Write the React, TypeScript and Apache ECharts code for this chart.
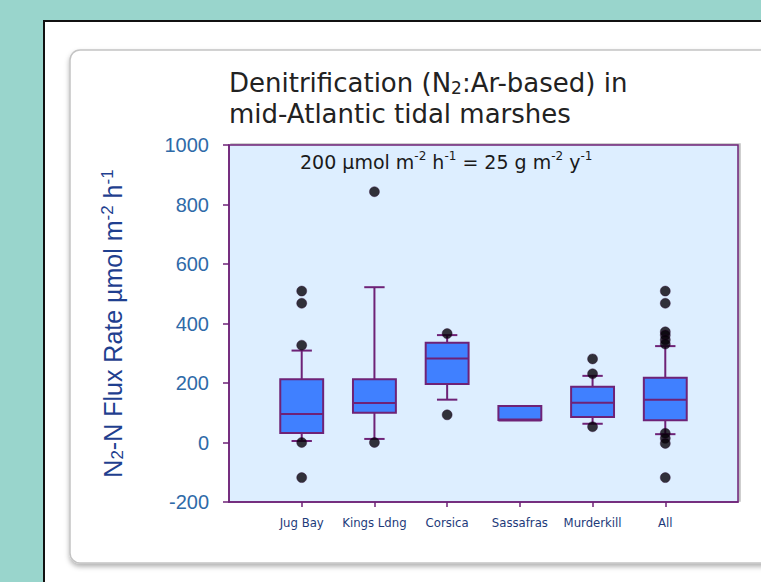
import React, { useEffect, useRef } from "react";
import * as echarts from "echarts";

const categories = ["Jug Bay", "Kings Ldng", "Corsica", "Sassafras", "Murderkill", "All"];
// [min(whisker), q1, median, q3, max(whisker)]
const boxStats: number[][] = [
  [5, 32, 96, 213, 309],
  [12, 100, 133, 213, 522],
  [144, 197, 282, 335, 361],
  [76, 76, 76, 123, 123],
  [63, 86, 134, 187, 224],
  [28, 75, 144, 218, 324],
];
const outliers: number[][] = [
  [509, 468, 327, 0, -118],
  [843, 0],
  [366, 93],
  [],
  [281, 231, 53],
  [509, 468, 372, 361, 345, 331, 31, 14, -3, -118],
];
const yTicks = { min: -200, max: 1000, interval: 200 };

const PURPLE = "#6e2277";

export default function App() {
  const ref = useRef<HTMLDivElement>(null);
  useEffect(() => {
    document.body.style.margin = "0";
    const chart = echarts.init(ref.current!, undefined, { renderer: "svg" });
    const axisCats = ["", ...categories, ""];
    const boxData = boxStats.map((s, i) => [i + 1, ...s]);
    const outData: number[][] = [];
    outliers.forEach((arr, i) => arr.forEach((v) => outData.push([i + 1, v])));

    const option: any = {
      animation: false,
      backgroundColor: "#99d5cc",
      graphic: [
        {
          type: "rect",
          z: -10,
          shape: { x: 44, y: 21, width: 730, height: 580 },
          style: { fill: "#ffffff", stroke: "#111111", lineWidth: 2 },
        },
        {
          type: "rect",
          z: -9,
          shape: { x: 70, y: 50, width: 720, height: 513, r: 10 },
          style: {
            fill: "#ffffff",
            stroke: "#c4c4c4",
            lineWidth: 1.5,
            shadowBlur: 5,
            shadowOffsetX: 0,
            shadowOffsetY: 3,
            shadowColor: "rgba(0,0,0,0.3)",
          },
        },
        {
          type: "text",
          left: 229,
          top: 70,
          style: {
            text: "Denitrification (N{sub|2}:Ar-based) in",
            fontFamily: "DejaVu Sans",
            fontSize: 26,
            fill: "#222222",
            rich: {
              sub: { fontSize: 17, fontFamily: "DejaVu Sans", verticalAlign: "bottom" },
            },
          },
        },
        {
          type: "text",
          left: 229,
          top: 101,
          style: {
            text: "mid-Atlantic tidal marshes",
            fontFamily: "DejaVu Sans",
            fontSize: 26,
            fill: "#222222",
          },
        },
        {
          type: "text",
          left: 300,
          top: 150,
          z: 10,
          style: {
            text: "200 \u00b5mol m{sup|-2} h{sup|-1} = 25 g m{sup|-2} y{sup|-1}",
            fontFamily: "DejaVu Sans",
            fontSize: 19,
            lineHeight: 23,
            fill: "#1a1a1a",
            rich: {
              sup: { fontSize: 12, fontFamily: "DejaVu Sans", verticalAlign: "top", lineHeight: 19 },
            },
          },
        },
      ],
      grid: {
        left: 229,
        top: 145,
        width: 509,
        height: 357,
        show: true,
        backgroundColor: "#ddeeff",
        borderColor: PURPLE,
        borderWidth: 1.5,
        shadowColor: "rgba(0,0,0,0.25)",
        shadowOffsetX: 2,
        shadowOffsetY: -1,
        shadowBlur: 1,
      },
      xAxis: {
        type: "category",
        data: axisCats,
        boundaryGap: false,
        axisLine: { onZero: false, lineStyle: { color: PURPLE, width: 1.5 } },
        axisTick: {
          lineStyle: { color: PURPLE, width: 1.5 },
          length: 5,
          interval: (idx: number) => idx > 0 && idx < axisCats.length - 1,
        },
        axisLabel: {
          interval: 0,
          margin: 14,
          fontFamily: "Liberation Sans Narrow, DejaVu Sans Condensed, Liberation Sans",
          fontSize: 13,
          color: "#1d3a7a",
        },
        splitLine: { show: false },
      },
      yAxis: {
        type: "value",
        min: yTicks.min,
        max: yTicks.max,
        interval: yTicks.interval,
        name: "N{sub|2}-N Flux Rate \u00b5mol m{sup|-2} h{sup|-1}",
        nameLocation: "middle",
        nameRotate: 90,
        nameGap: 103,
        nameTextStyle: {
          fontFamily: "Liberation Sans, Arial",
          fontSize: 25,
          color: "#1f3f8f",
          rich: {
            sub: { fontSize: 17, fontFamily: "Liberation Sans", color: "#1f3f8f", verticalAlign: "bottom", lineHeight: 27 },
            sup: { fontSize: 17, fontFamily: "Liberation Sans", color: "#1f3f8f", verticalAlign: "top", lineHeight: 27 },
          },
        },
        axisLine: { show: true, lineStyle: { color: PURPLE, width: 1.5 } },
        axisTick: { show: true, length: 6, lineStyle: { color: PURPLE, width: 1.5 } },
        axisLabel: {
          margin: 20,
          fontFamily: "Liberation Sans, Arial",
          fontSize: 20,
          color: "#2f6aa8",
          formatter: (v: number) => String(v),
        },
        splitLine: { show: false },
      },
      series: [
        {
          type: "custom",
          data: boxData,
          encode: { x: 0, y: [1, 2, 3, 4, 5] },
          z: 3,
          renderItem: (params: any, api: any) => {
            const x = api.value(0);
            const pMin = api.coord([x, api.value(1)]);
            const pQ1 = api.coord([x, api.value(2)]);
            const pMed = api.coord([x, api.value(3)]);
            const pQ3 = api.coord([x, api.value(4)]);
            const pMax = api.coord([x, api.value(5)]);
            const band = api.size([1, 0])[0];
            const bw = band * 0.59;
            const cw = band * 0.28;
            const cx = pQ1[0];
            const ls = { stroke: PURPLE, lineWidth: 2, fill: "none" };
            const children: any[] = [];
            if (api.value(5) > api.value(4)) {
              children.push({ type: "line", shape: { x1: cx, y1: pQ3[1], x2: cx, y2: pMax[1] }, style: ls });
              children.push({ type: "line", shape: { x1: cx - cw / 2, y1: pMax[1], x2: cx + cw / 2, y2: pMax[1] }, style: ls });
            }
            if (api.value(1) < api.value(2)) {
              children.push({ type: "line", shape: { x1: cx, y1: pQ1[1], x2: cx, y2: pMin[1] }, style: ls });
              children.push({ type: "line", shape: { x1: cx - cw / 2, y1: pMin[1], x2: cx + cw / 2, y2: pMin[1] }, style: ls });
            }
            children.push({
              type: "rect",
              shape: { x: cx - bw / 2, y: pQ3[1], width: bw, height: pQ1[1] - pQ3[1] },
              style: { fill: "#4080ff", stroke: PURPLE, lineWidth: 2 },
            });
            children.push({
              type: "line",
              shape: { x1: cx - bw / 2, y1: pMed[1], x2: cx + bw / 2, y2: pMed[1] },
              style: { stroke: PURPLE, lineWidth: api.value(3) === api.value(2) ? 3 : 2 },
            });
            return { type: "group", children };
          },
        },
        {
          type: "scatter",
          data: outData,
          symbol: "circle",
          symbolSize: 10,
          z: 5,
          itemStyle: { color: "#050008", borderColor: "#2a0630", borderWidth: 0.5 },
        },
      ],
    };
    chart.setOption(option);
    return () => chart.dispose();
  }, []);
  return <div ref={ref} style={{ width: 761, height: 582 }} />;
}
